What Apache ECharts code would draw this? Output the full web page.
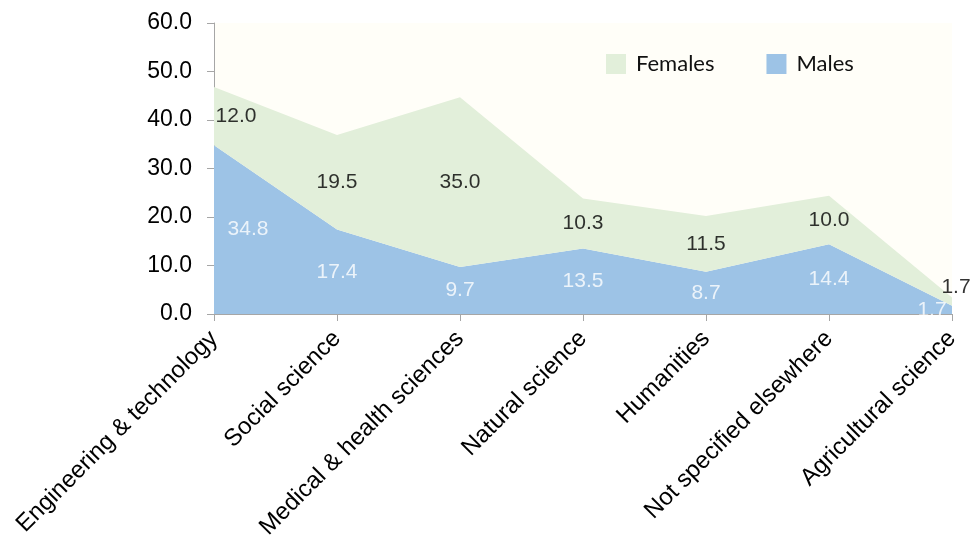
<!DOCTYPE html>
<html lang="en">
<head>
<meta charset="UTF-8">
<title>Fields by gender</title>
<script src="https://cdn.jsdelivr.net/npm/echarts@6/dist/echarts.min.js"></script>
<style>
    html, body { margin: 0; padding: 0; background: #ffffff; }
    #container { width: 971px; height: 539px; }
</style>
</head>
<body>
<div id="container"></div>
<script type="text/javascript">
    // data
    const fields = ['Engineering & technology', 'Social science', 'Medical & health sciences',
        'Natural science', 'Humanities', 'Not specified elsewhere', 'Agricultural science'];
    const males = [34.8, 17.4, 9.7, 13.5, 8.7, 14.4, 1.7];
    const females = [12.0, 19.5, 35.0, 10.3, 11.5, 10.0, 1.7];
    const yTicks = [0, 10, 20, 30, 40, 50, 60];

    const blue = '#9dc3e6';
    const green = '#e2efda';

    const myChart = echarts.init(document.getElementById('container'), null, { renderer: 'canvas' });

    // labels sit in the middle of each band, like the original
    const lastIdx = fields.length - 1;
    function shiftFor(i, first, last) {
        if (i === 0) return first;
        if (i === lastIdx) return last;
        return [0, 0];
    }
    const maleLabels = males.map((v, i) => ({
        value: [fields[i], v / 2],
        label: { offset: shiftFor(i, [34, 0], [-20, 0]) }
    }));
    const femaleLabels = females.map((v, i) => ({
        value: [fields[i], males[i] + v / 2],
        label: { offset: shiftFor(i, [22, 0], [4, -14]) }
    }));

    const labelFont = { fontFamily: 'Liberation Sans', fontSize: 21, textBorderWidth: 0 };

    const option = {
        animation: false,
        legend: {
            data: ['Females', 'Males'],
            left: 601,
            top: 48,
            icon: 'rect',
            itemWidth: 20,
            itemHeight: 20,
            itemGap: 52,
            textStyle: { fontFamily: 'Lato', fontSize: 22, color: '#111', padding: [0, 0, 0, 5] }
        },
        grid: {
            left: 214, right: 19, top: 23, bottom: 225,
            containLabel: false, outerBoundsMode: 'none',
            show: true, backgroundColor: '#fffef8', borderWidth: 0
        },
        xAxis: {
            type: 'category',
            data: fields,
            boundaryGap: false,
            axisLine: { lineStyle: { color: '#a6a6a6', width: 1 } },
            axisTick: { show: true, length: 7, lineStyle: { color: '#a6a6a6' } },
            axisLabel: {
                rotate: 45, margin: 21, interval: 0,
                color: '#000', fontFamily: 'Liberation Sans', fontSize: 24
            },
            splitLine: { show: false }
        },
        yAxis: {
            type: 'value',
            min: yTicks[0],
            max: yTicks[yTicks.length - 1],
            interval: 10,
            axisLine: { show: true, lineStyle: { color: '#a6a6a6', width: 1 } },
            axisTick: { show: true, length: 7, lineStyle: { color: '#a6a6a6' } },
            axisLabel: {
                margin: 22, color: '#000', fontFamily: 'Liberation Sans', fontSize: 23,
                formatter: v => v.toFixed(1)
            },
            splitLine: { show: false }
        },
        series: [
            {
                name: 'Males',
                type: 'line',
                stack: 'total',
                data: males,
                showSymbol: false,
                lineStyle: { width: 0 },
                itemStyle: { color: blue },
                areaStyle: { color: blue, opacity: 1 }
            },
            {
                name: 'Females',
                type: 'line',
                stack: 'total',
                data: females,
                showSymbol: false,
                lineStyle: { width: 0 },
                itemStyle: { color: green },
                areaStyle: { color: green, opacity: 1 }
            },
            {
                name: 'maleLabels',
                type: 'scatter',
                symbolSize: 0,
                data: maleLabels,
                z: 5,
                label: Object.assign({
                    show: true, position: 'inside', color: '#ffffff',
                    formatter: p => males[p.dataIndex].toFixed(1)
                }, labelFont)
            },
            {
                name: 'femaleLabels',
                type: 'scatter',
                symbolSize: 0,
                data: femaleLabels,
                z: 5,
                label: Object.assign({
                    show: true, position: 'inside', color: '#000000',
                    formatter: p => females[p.dataIndex].toFixed(1)
                }, labelFont)
            }
        ]
    };

    myChart.setOption(option);
    window.addEventListener('resize', myChart.resize);
</script>
</body>
</html>
